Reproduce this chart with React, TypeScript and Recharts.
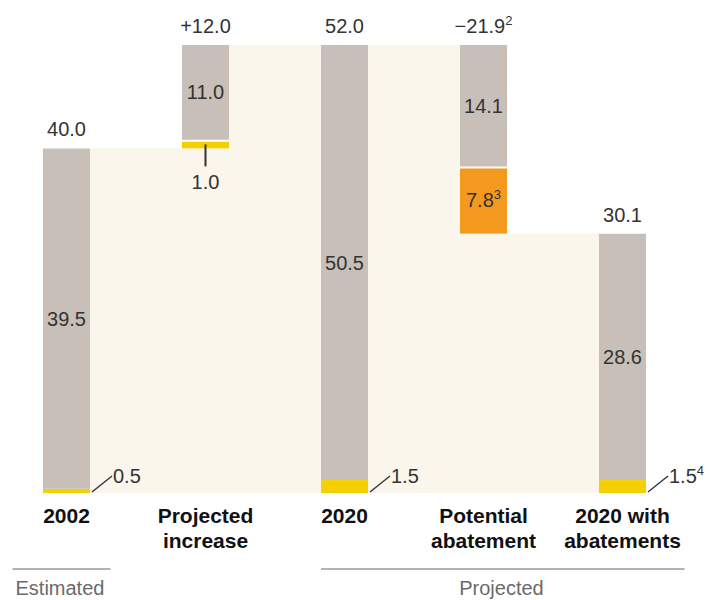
import React from "react";
import { BarChart, Bar, XAxis, YAxis, LabelList } from "recharts";

const categories = ["2002", "Projected\nincrease", "2020", "Potential\nabatement", "2020 with\nabatements"];
const baseValues = [0, 40, 0, 30.1, 0];
const yellowValues = [0.5, 1.0, 1.5, 0, 1.5];
const orangeValues = [0, 0, 0, 7.8, 0];
const grayValues = [39.5, 11.0, 50.5, 14.1, 28.6];
const levelValues = [40, 52, 52, 30.1, 0];
const totalLabels = ["40.0", "+12.0", "52.0", "\u221221.9", "30.1"];
const totalNotes = ["", "", "", "2", ""];
const yellowNotes = ["", "", "", "", "4"];
const orangeNotes = ["", "", "", "3", ""];

const data = categories.map((name, i) => ({
  name,
  base: baseValues[i],
  yellow: yellowValues[i],
  orange: orangeValues[i],
  gray: grayValues[i],
  level: levelValues[i],
}));

const W = 713;
const H = 600;
const MARGIN = { top: 45, right: 18, bottom: 7, left: 0 };
const AXIS_H = 100;
const BAR = 47;
const BAND = (W - MARGIN.left - MARGIN.right) / categories.length;
const BASELINE = H - MARGIN.bottom - AXIS_H;

const CREAM = "#fbf6ec";
const GRAY = "#c7bfb8";
const YELLOW = "#f5d000";
const ORANGE = "#f39a1e";
const TEXT = "#333333";
const FONT = "'Liberation Sans', Arial, sans-serif";

const Connector = (p: any) => {
  if (!p.height || p.index === categories.length - 1) return <g />;
  return <rect x={p.x + p.width} y={p.y} width={BAND - p.width} height={p.height} fill={CREAM} />;
};

const gapShape = (fill: string) => (p: any) => {
  const gap = baseValues[p.index] > 0 ? 2 : 0;
  const h = Math.max(0, p.height - gap);
  if (h <= 0) return <g />;
  return <rect x={p.x} y={p.y + gap} width={p.width} height={h} fill={fill} />;
};

const Note = ({ t }: { t: string }) =>
  t ? (
    <tspan fontSize={13} dy={-8}>
      {t}
    </tspan>
  ) : null;

const TopLabel = (p: any) => {
  const { x, y, width, index } = p;
  return (
    <text x={x + width / 2} y={y - 12} textAnchor="middle" fontSize={20} fill={TEXT} fontFamily={FONT}>
      {totalLabels[index]}
      <Note t={totalNotes[index]} />
    </text>
  );
};

const InsideLabel = (notes: string[] | null, values: number[]) => (p: any) => {
  const { x, y, width, height, index } = p;
  const v = values[index];
  if (!v || height < 20) return null;
  return (
    <text x={x + width / 2} y={y + height / 2 + 7} textAnchor="middle" fontSize={20} fill={TEXT} fontFamily={FONT}>
      {v.toFixed(1)}
      {notes ? <Note t={notes[index]} /> : null}
    </text>
  );
};

const YellowLabel = (p: any) => {
  const { x, y, width, height, index } = p;
  const v = yellowValues[index];
  if (!v) return null;
  if (baseValues[index] > 0) {
    const cx = x + width / 2;
    const bottom = y + height;
    return (
      <g>
        <line x1={cx} y1={bottom - 4} x2={cx} y2={bottom + 18} stroke={TEXT} strokeWidth={2} />
        <text x={cx} y={bottom + 41} textAnchor="middle" fontSize={20} fill={TEXT} fontFamily={FONT}>
          {v.toFixed(1)}
        </text>
      </g>
    );
  }
  const rx = x + width;
  const bottom = y + height;
  return (
    <g>
      <line x1={rx + 2} y1={bottom - 1} x2={rx + 22} y2={bottom - 17} stroke={TEXT} strokeWidth={1.5} />
      <text x={rx + 23} y={bottom - 10} fontSize={20} fill={TEXT} fontFamily={FONT}>
        {v.toFixed(1)}
        <Note t={yellowNotes[index]} />
      </text>
    </g>
  );
};

const CategoryTick = (p: any) => {
  const { x, index, payload } = p;
  const lines = String(payload.value).split("\n");
  return (
    <g fontFamily={FONT}>
      <text x={x} y={BASELINE + 30} textAnchor="middle" fontSize={21} fontWeight="bold" fill="#111">
        {lines.map((l, i) => (
          <tspan key={i} x={x} dy={i === 0 ? 0 : 25}>
            {l}
          </tspan>
        ))}
      </text>
      {index === 0 && (
        <g>
          <line x1={x - 54} y1={BASELINE + 76} x2={x + 44} y2={BASELINE + 76} stroke="#666" strokeWidth={1} />
          <text x={x - 51} y={BASELINE + 102} fontSize={20} fill="#6a6a6a">
            Estimated
          </text>
        </g>
      )}
      {index === 2 && (
        <g>
          <line x1={x - BAR / 2} y1={BASELINE + 76} x2={x + 340} y2={BASELINE + 76} stroke="#666" strokeWidth={1} />
          <text x={x + 157} y={BASELINE + 102} textAnchor="middle" fontSize={20} fill="#6a6a6a">
            Projected
          </text>
        </g>
      )}
    </g>
  );
};

export default function App() {
  return (
    <div style={{ position: "absolute", left: -3, top: 0, width: W, height: H, background: "#fff" }}>
      <BarChart width={W} height={H} data={data} margin={MARGIN} barCategoryGap={0}>
        <XAxis
          dataKey="name"
          axisLine={false}
          tickLine={false}
          height={AXIS_H}
          interval={0}
          tick={<CategoryTick />}
        />
        <XAxis xAxisId="bg" dataKey="name" hide />
        <YAxis hide domain={[0, 52]} />
        <Bar xAxisId="bg" dataKey="level" barSize={BAR} shape={<Connector />} isAnimationActive={false} />
        <Bar dataKey="base" stackId="a" barSize={BAR} fill={CREAM} isAnimationActive={false} />
        <Bar dataKey="yellow" stackId="a" barSize={BAR} shape={gapShape(YELLOW)} isAnimationActive={false}>
          <LabelList dataKey="yellow" content={YellowLabel} />
        </Bar>
        <Bar dataKey="orange" stackId="a" barSize={BAR} shape={gapShape(ORANGE)} isAnimationActive={false}>
          <LabelList dataKey="orange" content={InsideLabel(orangeNotes, orangeValues)} />
        </Bar>
        <Bar dataKey="gray" stackId="a" barSize={BAR} fill={GRAY} isAnimationActive={false}>
          <LabelList dataKey="gray" content={InsideLabel(null, grayValues)} />
          <LabelList dataKey="gray" content={TopLabel} />
        </Bar>
      </BarChart>
    </div>
  );
}
